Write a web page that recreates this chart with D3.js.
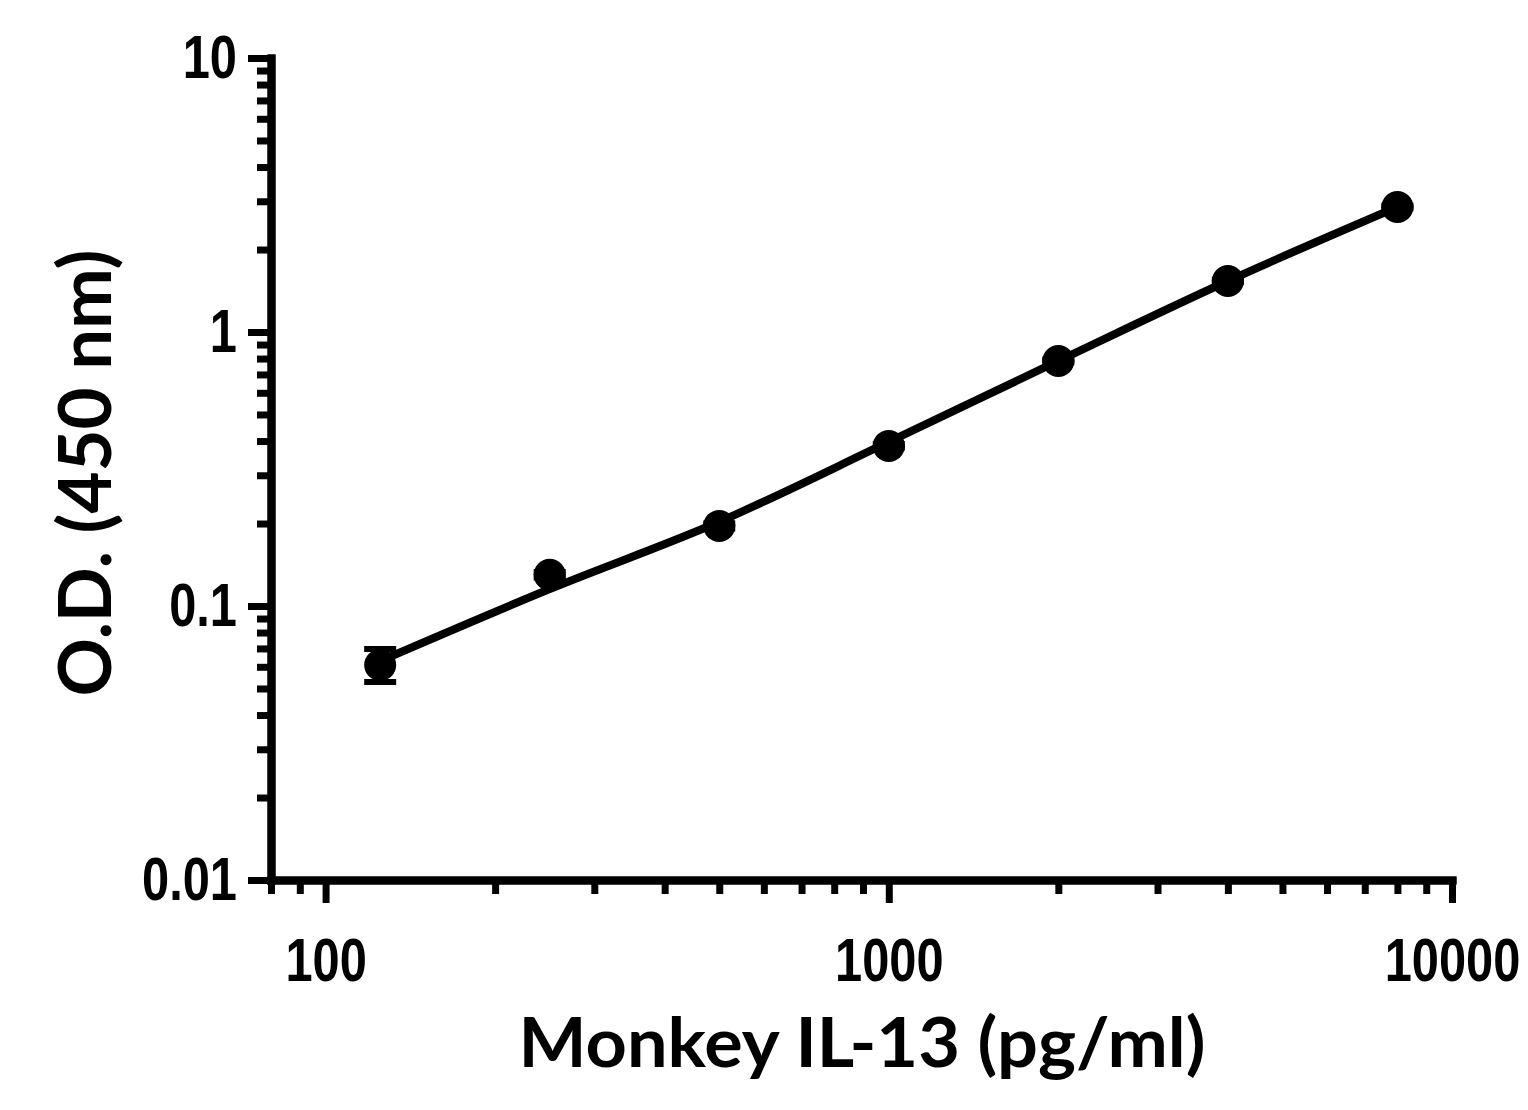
<!DOCTYPE html>
<html>
<head>
<meta charset="utf-8">
<script src="https://cdn.jsdelivr.net/npm/d3@7"></script>
<style>
  html, body { margin: 0; padding: 0; background: #fff; }
  svg { display: block; }
  .title { font-family: Lato, "DejaVu Sans", sans-serif; font-weight: bold; fill: #000; }
</style>
</head>
<body>
<svg id="chart" width="1528" height="1110"></svg>
<script>
// standard concentrations (pg/ml)
var conc = [125, 250, 500, 1000, 2000, 4000, 8000];
// mean O.D. at 450 nm
var od = [0.0609, 0.130, 0.196, 0.384, 0.784, 1.535, 2.86];
// error bars (only visible one at the lowest standard)
var odLow = [0.0528, 0.127, 0.192, 0.378, 0.775, 1.52, 2.83];
var odHigh = [0.0697, 0.133, 0.200, 0.390, 0.793, 1.55, 2.89];
// fitted curve, read at each standard
var fitOd = [0.0630, 0.1153, 0.203, 0.397, 0.784, 1.535, 2.86];

var xMajor = [100, 1000, 10000];
var xMinor = [80, 90, 200, 300, 400, 500, 600, 700, 800, 900,
              2000, 3000, 4000, 5000, 6000, 7000, 8000, 9000];
var yMajor = [0.01, 0.1, 1, 10];
var yMinor = [0.02, 0.03, 0.04, 0.05, 0.06, 0.07, 0.08, 0.09,
              0.2, 0.3, 0.4, 0.5, 0.6, 0.7, 0.8, 0.9,
              2, 3, 4, 5, 6, 7, 8, 9];

var svg = d3.select('#chart');

var x = d3.scaleLog().domain([80, 10000]).range([271, 1452]);
var y = d3.scaleLog().domain([0.01, 10]).range([880, 58]);

var fmt = function (d) { return String(d); };

// y axis
var gy = svg.append('g').attr('transform', 'translate(271,0)');
gy.call(d3.axisLeft(y).tickValues(yMinor).tickSize(14).tickSizeOuter(0).tickFormat(''));
gy.append('g').call(d3.axisLeft(y).tickValues(yMajor).tickSize(23).tickPadding(11).tickSizeOuter(0).tickFormat(fmt));

// x axis
var gx = svg.append('g').attr('transform', 'translate(0,880)');
gx.call(d3.axisBottom(x).tickValues(xMinor).tickSize(14).tickSizeOuter(0).tickFormat(''));
gx.append('g').call(d3.axisBottom(x).tickValues(xMajor).tickSize(23).tickPadding(35).tickSizeOuter(0).tickFormat(fmt));

svg.selectAll('.domain').attr('stroke', '#000').attr('stroke-width', 8).attr('stroke-linecap', 'square');
svg.selectAll('.tick line').attr('stroke', '#000').attr('stroke-width', 7);
// condensed bold tick labels
svg.selectAll('.tick text')
    .attr('fill', '#000')
    .style('font-family', '"Liberation Sans", Arial, sans-serif')
    .style('font-weight', 'bold')
    .style('font-size', '61px')
    .each(function () {
        var w = this.getComputedTextLength();
        d3.select(this).attr('textLength', w * 0.8).attr('lengthAdjust', 'spacingAndGlyphs');
    });

// fitted curve
var fit = conc.map(function (c, i) { return [c, fitOd[i]]; });
svg.append('path')
    .datum(fit)
    .attr('fill', 'none')
    .attr('stroke', '#000')
    .attr('stroke-width', 8)
    .attr('d', d3.line()
        .x(function (d) { return x(d[0]); })
        .y(function (d) { return y(d[1]); })
        .curve(d3.curveMonotoneX));

// error bars
var pts = conc.map(function (c, i) { return {c: c, m: od[i], lo: odLow[i], hi: odHigh[i]}; });
var eb = svg.append('g').attr('stroke', '#000').attr('stroke-width', 6);
eb.selectAll('line.v').data(pts).enter().append('line')
    .attr('x1', function (d) { return x(d.c); })
    .attr('x2', function (d) { return x(d.c); })
    .attr('y1', function (d) { return y(d.lo); })
    .attr('y2', function (d) { return y(d.hi); });
eb.selectAll('line.hi').data(pts).enter().append('line')
    .attr('x1', function (d) { return x(d.c) - 16; })
    .attr('x2', function (d) { return x(d.c) + 16; })
    .attr('y1', function (d) { return y(d.hi); })
    .attr('y2', function (d) { return y(d.hi); });
eb.selectAll('line.lo').data(pts).enter().append('line')
    .attr('x1', function (d) { return x(d.c) - 16; })
    .attr('x2', function (d) { return x(d.c) + 16; })
    .attr('y1', function (d) { return y(d.lo); })
    .attr('y2', function (d) { return y(d.lo); });

// points
svg.append('g').selectAll('circle').data(pts).enter().append('circle')
    .attr('cx', function (d) { return x(d.c); })
    .attr('cy', function (d) { return y(d.m); })
    .attr('r', 16)
    .attr('fill', '#000');

// axis titles
svg.append('text')
    .attr('class', 'title')
    .attr('x', 862).attr('y', 1067)
    .attr('text-anchor', 'middle')
    .attr('textLength', 687).attr('lengthAdjust', 'spacingAndGlyphs')
    .style('font-size', '68px')
    .text('Monkey IL-13 (pg/ml)');

svg.append('text')
    .attr('class', 'title')
    .attr('transform', 'translate(111,473) rotate(-90)')
    .attr('text-anchor', 'middle')
    .attr('textLength', 447).attr('lengthAdjust', 'spacingAndGlyphs')
    .style('font-size', '72px')
    .text('O.D. (450 nm)');
</script>
</body>
</html>
